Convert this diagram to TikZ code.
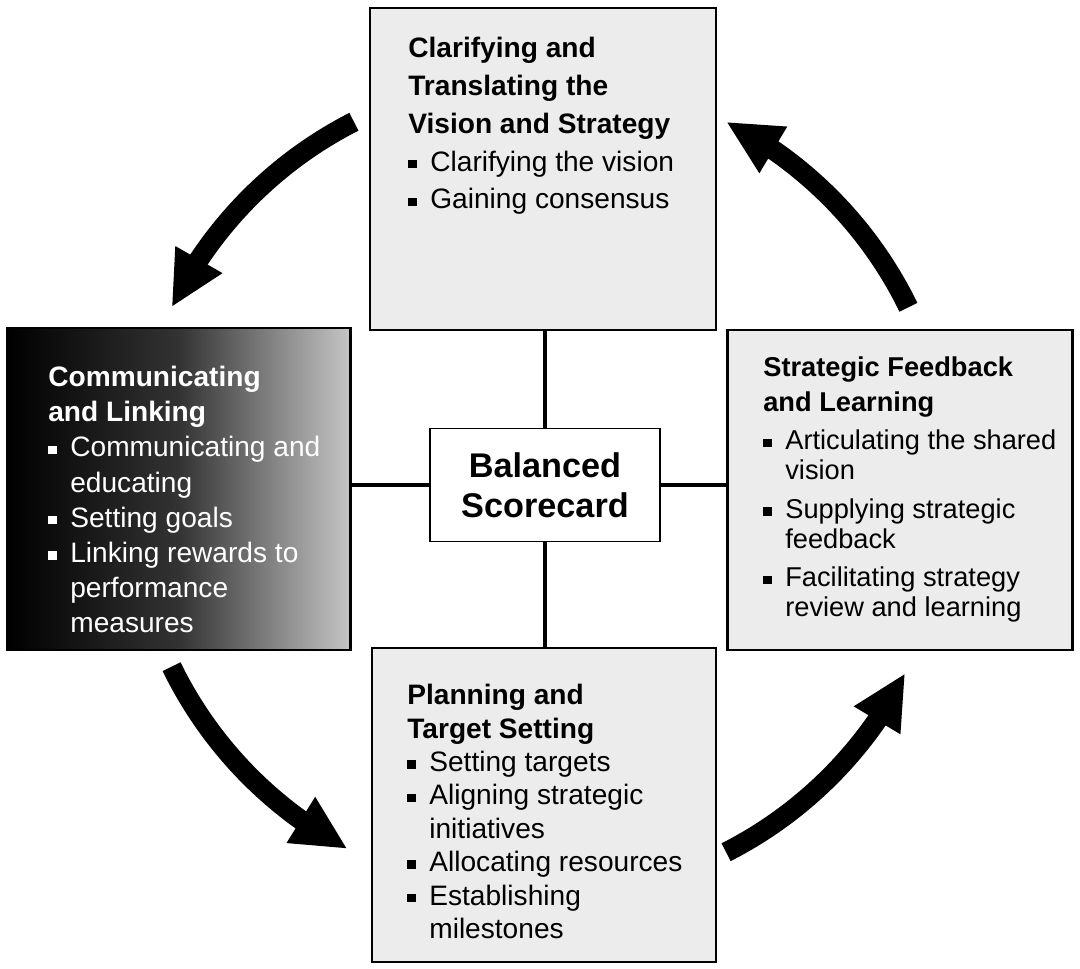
\documentclass[tikz,border=0pt]{standalone}
\usepackage{fontspec}
\setmainfont{Liberation Sans}
\usepackage{tikz}
\usetikzlibrary{positioning, calc, arrows.meta, bending}

\newcommand{\bul}{\makebox[0.44cm][l]{\rule[0.1em]{0.17cm}{0.17cm}}}
\newcommand{\ind}{\hspace*{0.44cm}}

\begin{document}
\begin{tikzpicture}[x=0.02cm, y=-0.02cm,
    panel/.style={rectangle, draw, line width=1.5pt, fill=gray!15},
    paneltext/.style={anchor=north west, align=left, inner sep=0pt, font=\fontsize{16}{21}\selectfont},
    hub/.style={rectangle, draw, line width=1pt, fill=white, minimum width=4.6cm, minimum height=2.26cm, align=center, font=\bfseries\fontsize{19.5}{23}\selectfont},
    spoke/.style={line width=2.8pt},
    bigarrow/.style={line width=0.4cm, -{Triangle[length=1.1cm, width=1.0cm]}}
]
    \useasboundingbox (0,0) rectangle (1080,969);

    % Panels
    \node[panel, minimum width=6.92cm, minimum height=6.44cm] (vision) at (543,169) {};
    \node[panel, minimum width=6.86cm, minimum height=6.44cm, left color=black, right color=gray!45, middle color=black!80] (link) at (179,489) {};
    \node[panel, minimum width=6.9cm, minimum height=6.4cm] (feedback) at (900,490) {};
    \node[panel, minimum width=6.88cm, minimum height=6.28cm] (plan) at (544,805) {};

    \node[hub] (bsc) at (545,485) {Balanced\\Scorecard};

    % Texts
    \node[paneltext, font=\fontsize{16}{21.5}\selectfont] (vision-txt) at (408,37) {%
        \textbf{Clarifying and}\\ \textbf{Translating the}\\ \textbf{Vision and Strategy}\\
        \bul Clarifying the vision\\ \bul Gaining consensus};
    \node[paneltext, text=white, font=\fontsize{16}{20}\selectfont] (link-txt) at (48,366) {%
        \textbf{Communicating}\\ \textbf{and Linking}\\
        \bul Communicating and\\ \ind educating\\ \bul Setting goals\\
        \bul Linking rewards to\\ \ind performance\\ \ind measures};
    \node[paneltext, font=\fontsize{15.5}{17}\selectfont] (feedback-txt) at (763,356) {%
        \textbf{Strategic Feedback}\\[3pt] \textbf{and Learning}\\[5pt]
        \bul Articulating the shared\\ \ind vision\\[5pt]
        \bul Supplying strategic\\ \ind feedback\\[5pt]
        \bul Facilitating strategy\\ \ind review and learning};
    \node[paneltext, font=\fontsize{16}{19}\selectfont] (plan-txt) at (407,684) {%
        \textbf{Planning and}\\ \textbf{Target Setting}\\
        \bul Setting targets\\ \bul Aligning strategic\\ \ind initiatives\\
        \bul Allocating resources\\ \bul Establishing\\ \ind milestones};

    % Spokes
    \draw[spoke] (bsc.north) -- (bsc.north |- vision.south);
    \draw[spoke] (bsc.south) -- (bsc.south |- plan.north);
    \draw[spoke] (bsc.west) -- (bsc.west -| link.east);
    \draw[spoke] (bsc.east) -- (bsc.east -| feedback.west);

    % Cycle arrows
    \coordinate (hubc) at (540,487);
    \draw[bigarrow] ($(hubc)+(117:8.2cm)$) arc[start angle=117, end angle=154, radius=8.2cm];
    \draw[bigarrow] ($(hubc)+(206:8.2cm)$) arc[start angle=206, end angle=242, radius=8.2cm];
    \draw[bigarrow] ($(hubc)+(297:8.2cm)$) arc[start angle=297, end angle=333, radius=8.2cm];
    \draw[bigarrow] ($(hubc)+(26:8.2cm)$) arc[start angle=26, end angle=63, radius=8.2cm];
\end{tikzpicture}
\end{document}
